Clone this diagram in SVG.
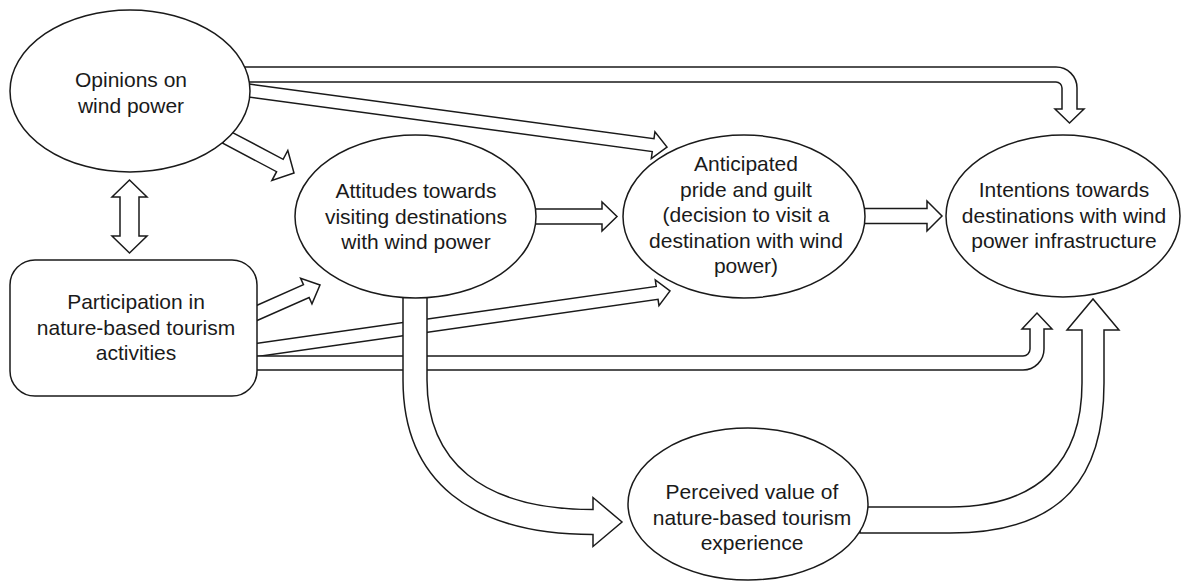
<svg xmlns="http://www.w3.org/2000/svg" width="1184" height="585" viewBox="0 0 1184 585">
<style>
.c{fill:#fff;stroke:#1a1a1a;stroke-width:1.5;stroke-linejoin:miter}
.n{fill:#fff;stroke:#1a1a1a;stroke-width:1.5}
.t{font-family:"Liberation Sans",Arial,sans-serif;font-size:21px;fill:#1a1a1a;text-anchor:middle}
</style>
<rect width="1184" height="585" fill="#fff"/>
<g id="connectors">
<path class="c" d="M240,67 H1056 A21,21 0 0 1 1077,88 V109 H1084 L1069.5,123 L1055,109 H1062 V88 A6,6 0 0 0 1056,82 H240 Z"/>
<polygon class="c" points="245.87,83.56 654.00,138.69 654.94,131.75 667,147 651.32,158.51 652.26,151.57 244.13,96.44"/>
<polygon class="c" points="229.28,130.81 283.14,159.32 287.81,150.49 294,173 271.91,180.53 276.58,171.70 222.72,143.19"/>
<path class="c" d="M530,209 H602 V202 L617,216.5 L602,231 V224 H530 Z"/>
<path class="c" d="M860,208.5 H927 V201 L942,216 L927,231 V223.5 H860 Z"/>
<polygon class="c" points="247.17,309.60 303.46,284.67 300.62,278.27 320,285 311.96,303.87 309.12,297.47 252.83,322.40"/>
<polygon class="c" points="249.08,344.57 656.21,286.41 655.29,279.97 670,291 658.97,305.71 658.05,299.27 250.92,357.43"/>
<path class="c" d="M250,356 H1023 A7,7 0 0 0 1030,349 V329 H1022 L1037,313 L1052,329 H1044 V349 A21,21 0 0 1 1023,370 H250 Z"/>
<path class="c" d="M860,507 H950 C1040,507 1082,460 1082,383 V330 H1067 L1093,299 L1119,330 H1104 V383 C1104,475 1065,533 950,533 H860 Z"/>
<path class="c" d="M403,285 V380 C403,480 470,534.5 593,534.5 V546.5 L622,522 L593,497.5 V509.5 C480,509.5 427,460 427,380 V285 Z"/>
<path class="c" d="M129.5,180 L147,197 H139 V236 H147 L129.5,253 L112,236 H120 V197 H112 Z"/>
</g>
<g id="opinions">
<ellipse class="n" cx="130" cy="91" rx="120" ry="81"/>
<text class="t" x="131" y="87">Opinions on</text>
<text class="t" x="131" y="112.5">wind power</text>
</g>
<g id="attitudes">
<ellipse class="n" cx="415.5" cy="216.5" rx="120.5" ry="81.5"/>
<text class="t" x="416" y="198">Attitudes towards</text>
<text class="t" x="416" y="223.5">visiting destinations</text>
<text class="t" x="416" y="249">with wind power</text>
</g>
<g id="anticipated">
<ellipse class="n" cx="744" cy="216.5" rx="121" ry="81.5"/>
<text class="t" x="746" y="171">Anticipated</text>
<text class="t" x="746" y="196.5">pride and guilt</text>
<text class="t" x="746" y="222">(decision to visit a</text>
<text class="t" x="746" y="247.5">destination with wind</text>
<text class="t" x="746" y="273">power)</text>
</g>
<g id="intentions">
<ellipse class="n" cx="1063" cy="216" rx="117" ry="81"/>
<text class="t" x="1064" y="197">Intentions towards</text>
<text class="t" x="1064" y="222.5">destinations with wind</text>
<text class="t" x="1064" y="248">power infrastructure</text>
</g>
<g id="participation">
<rect class="n" x="10" y="260" width="247" height="136" rx="25" ry="25"/>
<text class="t" x="136" y="309">Participation in</text>
<text class="t" x="136" y="334.5">nature-based tourism</text>
<text class="t" x="136" y="360">activities</text>
</g>
<g id="perceived">
<ellipse class="n" cx="748" cy="504" rx="120" ry="76"/>
<text class="t" x="752" y="499">Perceived value of</text>
<text class="t" x="752" y="524.5">nature-based tourism</text>
<text class="t" x="752" y="550">experience</text>
</g>
</svg>
